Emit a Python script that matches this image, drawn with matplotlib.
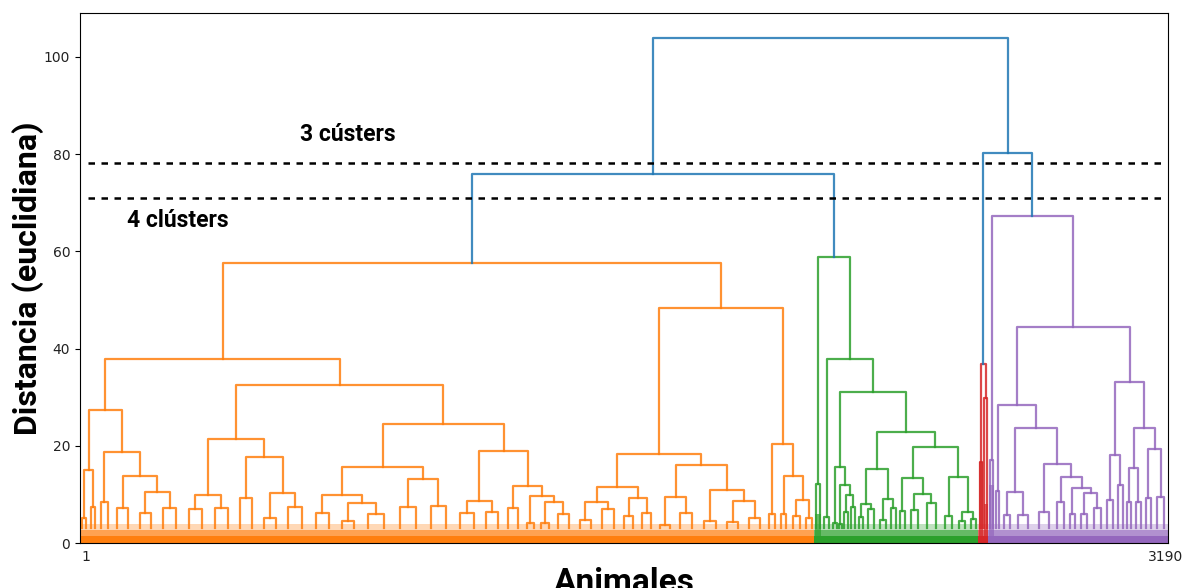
import matplotlib
matplotlib.use("Agg")
import matplotlib.pyplot as plt
import matplotlib.transforms as mtransforms

# Terminal groups of animals (left to right): how many animals, and height of their last visible merge
orange_sizes = [25, 25, 43, 65, 68, 73, 79, 73, 72, 68, 80, 78, 73, 93, 92, 88, 79, 67,
                59, 40, 46, 62, 67, 66, 55, 51, 56, 70, 67, 67, 63, 37, 32, 43, 31]
orange_tips = [5.1, 7.5, 8.4, 7.3, 6.1, 7.1, 6.9, 7.2, 9.2, 5.2, 7.5, 6.1, 4.5, 5.9, 7.4, 7.6, 6.1, 6.4,
               7.3, 4.2, 4.1, 6.0, 4.7, 7.0, 5.5, 6.1, 3.8, 6.2, 4.5, 4.4, 5.1, 6.0, 5.9, 5.6, 5.2]
green_sizes = [23, 27, 20, 13, 20, 23, 24, 32, 37, 26, 26, 44, 56, 45, 36, 29]
green_tips = [12.1, 5.4, 4.1, 4.0, 6.3, 7.5, 5.4, 7.0, 4.7, 7.2, 6.5, 6.8, 8.2, 5.5, 4.5, 5.0]
red_sizes = [14, 15]
red_tips = [16.6, 29.8]
purple_sizes = [19, 18, 34, 61, 61, 38, 31, 37, 41, 35, 25, 25, 29, 31, 42]
purple_tips = [17.1, 10.6, 5.7, 5.8, 6.4, 8.4, 6.0, 6.0, 7.1, 8.9, 11.9, 8.4, 8.4, 9.3, 9.5]

# Groups whose narrow merges pile up into a solid column: (colour, group index) -> column height
dense_columns = {("red", 0): 16.6, ("red", 1): 8.0, ("purple", 0): 12.0, ("green", 0): 6.0}

# Merge trees: (height, left, right); integers point at the terminal groups above
orange_tree = (57.6,
               (37.9,
                (27.4, (15.0, 0, 1), (18.7, 2, (13.8, 3, (10.4, 4, 5)))),
                (32.4,
                 (21.3, (9.9, 6, 7), (17.6, 8, (10.2, 9, 10))),
                 (24.5,
                  (15.6, (9.8, 11, (8.3, 12, 13)), (13.2, 14, 15)),
                  (18.9, (8.6, 16, 17), (11.7, 18, (9.7, 19, (8.4, 20, 21))))))),
               (48.4,
                (18.4, (11.6, (8.4, 22, 23), (9.3, 24, 25)),
                 (16.1, (9.4, 26, 27), (10.9, 28, (8.7, 29, 30)))),
                (20.4, 31, (13.8, 32, (8.8, 33, 34)))))
green_tree = (58.8, 0,
              (37.9, 1,
               (31.1,
                (15.7, 2, (11.9, 3, (9.9, 4, 5))),
                (22.9,
                 (15.2, (8.0, 6, 7), (9.0, 8, 9)),
                 (19.8, (13.4, 10, (10.0, 11, 12)), (13.6, 13, (6.4, 14, 15)))))))
red_tree = (36.8, 0, 1)
purple_tree = (67.3, 0,
               (44.5,
                (28.3, 1,
                 (23.7, (10.4, 2, 3),
                  (16.3, 4, (13.5, 5, (11.3, 6, (10.2, 7, 8)))))),
                (33.2, (18.1, 9, 10), (23.7, (15.5, 11, 12), (19.3, 13, 14)))))

# Top links (blue) and the two cut levels
left_merge = 75.9
right_merge = 80.2
root_merge = 103.9
cut_3 = 78.2
cut_4 = 71.0
n_animals = 3190

fig = plt.figure(figsize=(11.85, 5.88), dpi=100)
ax = fig.add_axes([0.0675, 0.0765, 0.9182, 0.9014])

state = {"cursor": 0}
LW = 1.6
GRASS = 3.0  # level where the dense low merges end


def draw(node, sizes, tips, color, name):
    """Draw a (sub)tree and return the x position and height of its top"""
    if isinstance(node, int):
        n = sizes[node]
        h = tips[node]
        x0 = state["cursor"]
        state["cursor"] += n
        # dense bottom of the group, many tiny merges
        ax.fill_between([x0, x0 + n], 0, 1.4, color=color, lw=0, alpha=1.0)
        ax.fill_between([x0, x0 + n], 0, 2.6, color=color, lw=0, alpha=0.6)
        ax.fill_between([x0, x0 + n], 0, 4.0, color=color, lw=0, alpha=0.3)
        col_h = dense_columns.get((name, node))
        if col_h:
            ax.fill_between([x0 + n * 0.1, x0 + n * 0.9], 0, col_h, color=color, lw=0, alpha=0.7)
        xa, xb = x0 + n * 0.25, x0 + n * 0.75
        ax.plot([xa, xa, xb, xb], [GRASS, h, h, GRASS], color=color, lw=LW, alpha=0.85)
        return x0 + n / 2, h
    h, left, right = node
    xl, hl = draw(left, sizes, tips, color, name)
    xr, hr = draw(right, sizes, tips, color, name)
    ax.plot([xl, xl, xr, xr], [hl, h, h, hr], color=color, lw=LW, alpha=0.85)
    return (xl + xr) / 2, h


xo, ho = draw(orange_tree, orange_sizes, orange_tips, "tab:orange", "orange")
xg, hg = draw(green_tree, green_sizes, green_tips, "tab:green", "green")
xr_, hr_ = draw(red_tree, red_sizes, red_tips, "tab:red", "red")
xp, hp = draw(purple_tree, purple_sizes, purple_tips, "tab:purple", "purple")

blue = "tab:blue"
ax.plot([xo, xo, xg, xg], [ho, left_merge, left_merge, hg], color=blue, lw=LW, alpha=0.85)
ax.plot([xr_, xr_, xp, xp], [hr_, right_merge, right_merge, hp], color=blue, lw=LW, alpha=0.85)
xa, xb = (xo + xg) / 2, (xr_ + xp) / 2
ax.plot([xa, xa, xb, xb], [left_merge, root_merge, root_merge, right_merge], color=blue, lw=LW, alpha=0.85)

# Cut lines
for y in (cut_3, cut_4):
    ax.axhline(y, xmin=0.007, xmax=0.997, color="black", lw=1.8, linestyle=(0, (2.6, 2.6)))

label_font = ["Roboto", "DejaVu Sans"]
ax.text(786, 84.0, "3 cústers", ha="center", va="center", fontsize=16.5,
        fontweight="bold", family=label_font)
ax.text(287, 66.3, "4 clústers", ha="center", va="center", fontsize=16.5,
        fontweight="bold", family=label_font)

ax.set_xlim(0, n_animals)
ax.set_ylim(0, 109)
ax.set_yticks([0, 20, 40, 60, 80, 100])
ax.set_xticks([0.5, n_animals - 0.5])
ax.set_xticklabels(["1", str(n_animals)])
ax.tick_params(axis="x", length=0, pad=5, labelsize=10, labelcolor="#222222")
ax.tick_params(axis="y", labelsize=10, labelcolor="#222222")
first_lab, last_lab = ax.get_xticklabels()
first_lab.set_transform(first_lab.get_transform()
                        + mtransforms.ScaledTranslation(0.06, 0, fig.dpi_scale_trans))
last_lab.set_transform(last_lab.get_transform()
                       + mtransforms.ScaledTranslation(-0.02, 0, fig.dpi_scale_trans))

ax.set_ylabel("Distancia (euclidiana)", fontsize=23, fontweight="bold", family=label_font, labelpad=0)
ax.set_xlabel("Animales", fontsize=24, fontweight="bold", family=label_font, labelpad=2)

plt.savefig("out.png", dpi=100)
plt.close()
